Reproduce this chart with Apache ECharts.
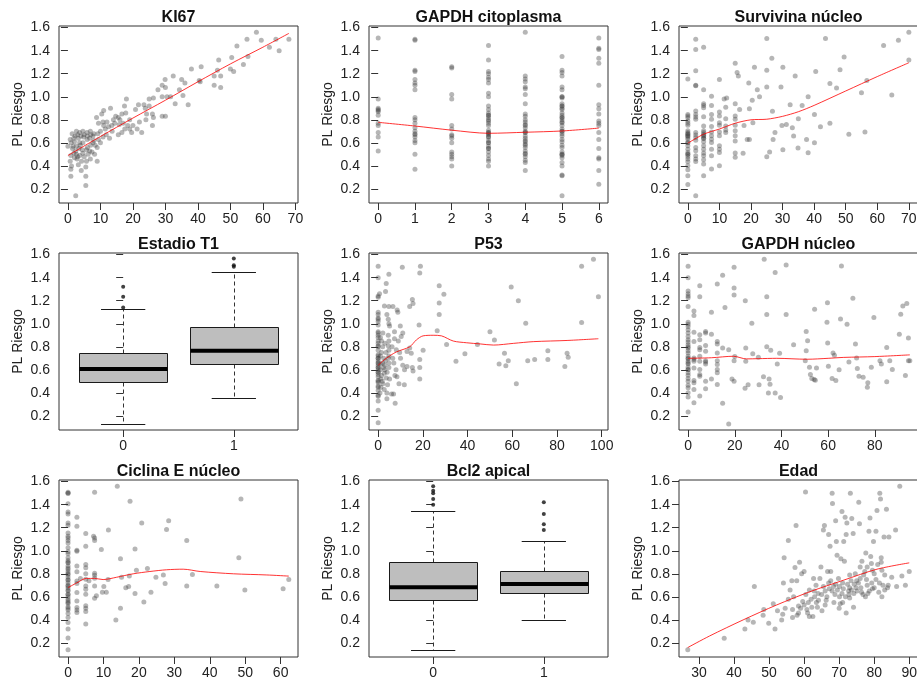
<!DOCTYPE html>
<html><head><meta charset="utf-8">
<script src="https://cdn.jsdelivr.net/npm/echarts@6/dist/echarts.min.js"></script>
<style>html,body{margin:0;padding:0;background:#fff}#c{width:917px;height:681px}</style>
</head><body><div id="c"></div>
<script>
// ---- values ----
const yTicks = [0.2, 0.4, 0.6, 0.8, 1.0, 1.2, 1.4, 1.6];
const ki67Ticks = [0, 10, 20, 30, 40, 50, 60, 70];
const gapdhCitoTicks = [0, 1, 2, 3, 4, 5, 6];
const survTicks = [0, 10, 20, 30, 40, 50, 60, 70];
const binTicks = [0, 1];
const p53Ticks = [0, 20, 40, 60, 80, 100];
const gapdhNucTicks = [0, 20, 40, 60, 80];
const ciclinaTicks = [0, 10, 20, 30, 40, 50, 60];
const edadTicks = [30, 40, 50, 60, 70, 80, 90];

const ki67Pts = [[58,1.56],[55.1,1.50],[59.5,1.49],[64,1.50],[68,1.50],[52,1.44],[62,1.43],[65,1.40],[55.4,1.35],[54,1.28],[50.4,1.34],[46.4,1.32],[50,1.24],[51,1.22],[46,1.23],[45,1.18],[47,1.18],[47,1.08],[45,1.10],[41,1.26],[38,1.24],[40.4,1.14],[40.7,1.13],[35,1.15],[36,1.12],[32.4,1.18],[29.9,1.15],[29,1.10],[27.7,1.06],[30,1.08],[30.5,1.00],[31.6,1.00],[34.3,1.06],[35.4,1.01],[37,0.93],[33,0.94],[29,1.00],[26.3,0.99],[25,0.98],[25,0.92],[23.4,0.93],[23.8,0.90],[21.7,0.93],[20.8,0.89],[18,0.98],[17.4,0.92],[16.6,0.85],[17.8,0.86],[15.5,0.82],[14.7,0.83],[13.1,0.90],[11,0.88],[10.4,0.85],[8.8,0.82],[9.4,0.77],[10.8,0.78],[12,0.78],[14.4,0.77],[15.8,0.76],[17,0.77],[18.4,0.75],[20,0.75],[21.3,0.72],[22.7,0.69],[19.6,0.69],[26.3,0.82],[26,0.75],[24.2,0.85],[29,0.83],[30,0.83],[26,0.85],[16.6,0.69],[15.5,0.67],[13.6,0.70],[11.8,0.67],[10.8,0.65],[9.4,0.63],[9.2,0.68],[7.7,0.66],[6.9,0.70],[5.9,0.69],[4.6,0.70],[3.6,0.69],[2.6,0.70],[1.3,0.68],[0.7,0.63],[0,0.57],[1,0.60],[2,0.61],[2.6,0.57],[1.6,0.57],[3.6,0.60],[4.6,0.60],[5.9,0.63],[6.7,0.64],[7.7,0.60],[9,0.56],[8.4,0.58],[6.7,0.53],[5.7,0.54],[4.6,0.51],[3.6,0.49],[2.6,0.50],[1.8,0.51],[0.9,0.49],[2.8,0.46],[4.2,0.44],[5.7,0.44],[6.9,0.46],[9,0.44],[0.7,0.44],[1.1,0.40],[0.9,0.37],[0.9,0.31],[4.1,0.36],[5.5,0.31],[5.5,0.23],[2.4,0.14],[5.5,0.39],[3.2,0.41],[2.2,0.66],[3,0.67],[4,0.66],[5,0.67],[6,0.66],[7,0.67],[8,0.68],[3.2,0.64],[4.8,0.65],[2.4,0.53],[3.4,0.55],[4.4,0.54],[1.4,0.55],[2,0.47],[3,0.48],[5,0.48],[6.2,0.50],[7.4,0.52],[8.2,0.50],[1.8,0.64],[10,0.70],[11.5,0.72],[12.5,0.74],[13.5,0.75],[14,0.80],[16,0.80],[19,0.80],[22,0.78],[24,0.80],[19,0.72],[17.5,0.72],[11,0.75],[12.8,0.64],[10,0.60],[8,0.62],[3.8,0.58],[6,0.56],[7,0.58]];
const ki67Fit = [[0,0.49],[10,0.655],[20,0.815],[30,0.97],[40,1.13],[50,1.285],[60,1.43],[68,1.55]];

const gapdhCitoLevels = [0, 1, 2, 3, 4, 5, 6];
const gapdhCitoValues = [
  [1.51,0.98,0.90,0.89,0.87,0.84,0.77,0.75,0.69,0.65,0.53,0.88],
  [1.50,1.49,1.23,1.22,1.15,1.12,1.10,1.06,0.82,0.80,0.77,0.73,0.70,0.68,0.67,0.65,0.62,0.60,0.50,0.37],
  [1.26,1.25,1.02,0.98,0.75,0.72,0.67,0.66,0.64,0.60,0.52,0.50,0.48,0.46,0.40],
  [1.445,1.32,1.22,1.20,1.17,1.15,1.12,1.03,1.00,0.92,0.89,0.86,0.84,0.82,0.79,0.77,0.75,0.71,0.69,0.68,0.67,0.65,0.62,0.60,0.57,0.55,0.52,0.49,0.46,0.44,0.40,0.69,0.65,0.60,0.55,0.84,0.80],
  [1.56,1.18,1.155,1.13,1.085,1.07,1.02,0.94,0.85,0.83,0.80,0.78,0.76,0.73,0.70,0.69,0.66,0.64,0.61,0.59,0.56,0.53,0.51,0.48,0.45,0.43,0.36,0.69,0.62,0.58,0.50,0.75],
  [1.35,1.23,1.21,1.18,1.085,1.06,1.00,0.99,0.94,0.92,0.90,0.89,0.86,0.84,0.82,0.80,0.775,0.75,0.72,0.70,0.68,0.66,0.63,0.61,0.58,0.56,0.52,0.50,0.47,0.43,0.40,0.32,0.315,0.14,1.00,0.92,0.82,0.78,0.70,0.50,0.49],
  [1.51,1.42,1.41,1.335,1.29,1.10,0.93,0.895,0.85,0.79,0.77,0.75,0.69,0.63,0.55,0.47,0.46,0.36,0.24]
];
const gapdhCitoFit = [[0,0.778],[1,0.746],[2,0.71],[3,0.683],[4,0.692],[5,0.703],[6,0.728]];

const survPts = [[0,1.155],[0,0.847],[0,0.833],[0,0.818],[0,0.79],[0,0.77],[0,0.753],[0,0.704],[0,0.689],[0,0.675],[0,0.661],[0,0.646],[0,0.632],[0,0.603],[0,0.574],[0,0.545],[0,0.517],[0,0.502],[0,0.482],[0,0.459],[0,0.436],[0,0.401],[0,0.367],[0,0.315],[0,0.238],[0,0.66],[0,0.6],[0,0.5],[0,0.68],
[2.5,1.5],[2.5,1.41],[2.5,1.225],[2.5,1.1],[2.5,1.095],[2.5,0.876],[2.5,0.847],[2.5,0.824],[2.5,0.804],[2.5,0.689],[2.5,0.669],[2.5,0.646],[2.5,0.623],[2.5,0.56],[2.5,0.531],[2.5,0.488],[2.5,0.459],[2.5,0.439],[2.5,0.14],
[5,1.43],[5,1.06],[5,0.939],[5,0.925],[5,0.905],[5,0.827],[5,0.746],[5,0.704],[5,0.689],[5,0.675],[5,0.661],[5,0.637],[5,0.609],[5,0.574],[5,0.545],[5,0.511],[5,0.488],[5,0.453],[5,0.416],[5,0.315],[5,0.66],[5,0.64],
[7.5,1.005],[7.5,0.925],[7.5,0.847],[7.5,0.804],[7.5,0.741],[7.5,0.695],[7.5,0.661],[7.5,0.632],[7.5,0.603],[7.5,0.545],[7.5,0.488],[7.5,0.373],
[10,1.15],[10,0.867],[10,0.833],[10,0.775],[10,0.752],[10,0.695],[10,0.661],[10,0.574],[10,0.545],[10,0.517],[10,0.401],
[11.5,0.98],[12.3,0.99],[12,0.91],[12,0.81],[12,0.746],[12,0.712],[12,0.689],
[15,1.29],[15,0.94],[15,0.833],[15,0.804],[15,0.752],[15,0.704],[15,0.661],[15,0.617],[15,0.511],[15,0.474],
[15.6,1.21],[16,1.18],[17.8,0.75],[17.5,0.51],[16.4,0.89],[19.3,1.12],[19.5,0.895],[19.5,0.63],[18.8,0.63],[20.4,0.97],[21.1,1.255],[20.6,0.775],[22,1.06],[22.7,1.0],
[25,1.505],[25,1.23],[25,1.085],[25,0.48],[25.9,0.52],[26.6,1.335],[26.8,0.875],[27,0.63],[27.6,0.69],[29.5,1.085],[29.8,0.75],[30.1,0.54],[30.1,1.255],[31.2,0.76],[32.4,0.93],[33.1,0.73],[33.5,0.66],[34,1.18],[35,0.81],[34.9,0.555],[36.2,0.925],[37.6,0.63],[38.1,1.0],[38.1,0.515],
[40.1,0.845],[40.1,0.6],[40.5,1.22],[42,0.74],[43.6,1.505],[45,1.115],[45,0.77],[47.1,1.075],[48.2,1.235],[49.5,1.345],[51,0.675],[55,1.035],[56.1,0.695],[56.7,1.14],[62,1.445],[64.6,1.015],[66.7,1.49],[70,1.56],[70,1.32]];
const survFit = [[0,0.597],[5,0.675],[10,0.72],[15,0.77],[20,0.80],[25,0.805],[30,0.83],[35,0.87],[40,0.925],[50,1.05],[60,1.175],[70,1.295]];

const estadioStats = [[0.134,0.493,0.608,0.749,1.126],[0.355,0.651,0.766,0.976,1.448]];
const estadioOut = [[0,1.321],[0,1.235],[0,1.14],[1,1.566],[1,1.508],[1,1.494]];

const p53Pts = [[0,1.5],[0,1.4],[0,1.24],[0,1.23],[0,1.1],[0,1.08],[0,1.05],[0,1.04],[0,1.02],[0,0.99],[0,0.93],[0,0.92],[0,0.88],[0,0.85],[0,0.83],[0,0.81],[0,0.77],[0,0.73],[0,0.72],[0,0.7],[0,0.68],[0,0.66],[0,0.64],[0,0.62],[0,0.6],[0,0.58],[0,0.56],[0,0.54],[0,0.51],[0,0.49],[0,0.46],[0,0.42],[0,0.38],[0,0.37],[0,0.33],[0,0.25],[0,0.14],[0,0.66],[0,0.62],[0,0.58],[0,0.7],[0,0.5],[0,0.45],[0,0.9],[0,0.8],
[0.6,1.26],[3.3,1.28],[3.6,1.35],[4.8,1.43],[2.8,1.155],[4.8,1.15],[3.9,1.08],[4.5,1.04],[4.8,1.0],[5.1,0.98],[4.5,0.9],[4.8,0.85],[4.5,0.81],[4.8,0.77],[4.8,0.72],[4.5,0.7],[4.8,0.66],[4.8,0.62],[5.1,0.52],[3,0.6],[2.7,0.57],[2.1,0.48],[2.7,0.43],[3.9,0.4],[3.9,0.35],[2.1,0.92],[1.5,0.85],[2,0.8],[1.5,0.75],[2.5,0.7],[1.2,0.65],[1.5,0.55],[1.8,0.5],[1.2,0.45],[3,0.83],[3.2,0.68],[2.4,0.62],[3.6,0.53],[4.2,0.47],[3.5,0.75],[1,0.72],[1,0.6],[1.2,0.52],[2,0.66],[3,0.64],[4,0.58],[1,0.88],[0.8,0.4],
[6.6,1.15],[7.3,0.93],[7.3,0.87],[8.1,0.775],[8.5,1.12],[8.8,1.1],[9.3,0.48],[8.4,0.54],[7.6,0.31],[6.9,0.39],[6,0.39],[9.9,0.98],[9.6,0.75],[10.3,0.89],[10.8,1.49],[11,0.64],[11.7,0.47],[11.8,0.6],[12.9,0.76],[12.9,0.63],[14.1,0.79],[14.1,1.15],[14.8,0.745],[15.3,1.21],[15.6,1.175],[15.3,0.62],[15.6,0.59],[18.3,0.99],[18.9,1.5],[18.6,1.44],[18.6,0.69],[18.6,0.62],[18.6,0.52],[20.1,0.77],[6.5,0.7],[7,0.66],[6.2,0.8],[8,0.6],[7.5,0.55],[9,0.85],[10,0.7],[11,0.92],
[26.4,0.94],[27.3,1.33],[27.3,1.18],[27.3,1.08],[29.4,1.255],[30.6,0.82],[34.8,0.675],[38.8,0.74],[44.4,0.82],[50,0.93],[52,0.86],[54.1,0.65],[56.5,0.745],[57.1,0.635],[58.2,0.68],[59.5,1.32],[61.8,0.48],[62.7,1.2],[66,1.005],[66.9,0.68],[70,0.69],[75.9,0.765],[75.9,0.69],[83.5,0.63],[84.5,0.745],[85,0.71],[91,1.5],[91,1.01],[96.3,1.56],[98.5,1.235]];
const p53Fit = [[0,0.64],[3.6,0.70],[8.1,0.755],[14.1,0.80],[17.1,0.86],[20.1,0.895],[24.6,0.90],[28.3,0.895],[33.6,0.85],[39.6,0.835],[45.6,0.825],[51.6,0.815],[60.6,0.83],[69.6,0.845],[84.5,0.855],[98.5,0.87]];

const gapdhNucPts = [[0,1.5],[0,1.4],[0,1.285],[0,1.26],[0,1.24],[0,1.226],[0,1.149],[0,1.014],[0,0.996],[0,0.976],[0,0.948],[0,0.919],[0,0.89],[0,0.861],[0,0.841],[0,0.818],[0,0.789],[0,0.766],[0,0.746],[0,0.718],[0,0.697],[0,0.674],[0,0.651],[0,0.623],[0,0.603],[0,0.574],[0,0.554],[0,0.525],[0,0.502],[0,0.467],[0,0.444],[0,0.401],[0,0.364],[0,0.234],[0,0.7],[0,0.66],[0,0.6],[0,0.8],
[2.5,1.111],[2.5,1.071],[2.5,0.927],[2.5,0.847],[2.5,0.703],[2.5,0.689],[2.5,0.674],[2.5,0.617],[2.5,0.508],[2.5,0.488],[2.5,0.43],[2.5,0.315],
[5,1.33],[5,1.235],[5,0.904],[5,0.861],[5,0.795],[5,0.775],[5,0.718],[5,0.674],[5,0.603],[5,0.559],[5,0.545],[5,0.373],
[7.5,0.933],[7.5,0.919],[7.5,0.812],[7.5,0.761],[7.5,0.68],[7.5,0.669],[7.5,0.651],[7.5,0.502],[7.5,0.436],
[10,1.1],[10,0.91],[10,0.52],
[12.5,1.344],[12.5,0.847],[12.5,0.824],[12.5,0.746],[12.5,0.68],[12.5,0.646],[12.5,0.603],[12.5,0.574],[12.5,0.473],
[14.8,0.79],[14.8,0.31],[14.8,1.42],[15.8,1.14],[17.4,0.13],[17.4,0.775],[18.8,0.52],[19.7,1.31],[19.7,1.25],[19.7,1.49],[20,0.715],[19.7,0.5],[19.7,0.68],
[24.5,1.2],[24.7,0.79],[24.7,0.675],[24.4,0.44],[25.7,0.47],[27.3,1.005],[27.7,0.74],[30.1,0.71],[30.4,0.47],[32.3,0.54],[32.6,1.56],[33.7,1.235],[33.7,1.08],[33.7,0.8],[34.7,0.52],[35.1,0.475],[34.4,0.4],[35.4,0.77],[37.3,1.445],[37.3,0.4],[38.2,0.65],[39.2,0.745],[39.6,0.36],[42,1.51],[42,1.08],[45.2,0.818],
[50.6,0.933],[51.2,0.853],[50.6,0.766],[50.2,0.68],[52,0.623],[52.4,0.559],[53,0.525],[54,0.516],[55,0.617],[54.5,0.51],[54.2,1.126],[59.5,1.014],[59.8,0.833],[60.1,0.631],[59.7,1.183],[61.7,0.525],[62.1,0.746],[62.7,0.726],[63.3,0.508],[64.7,0.6],[65.3,1.042],[65.7,1.502],[68.1,0.996],[68.9,0.669],[70.6,1.221],[71.7,0.824],[72.2,0.703],[72.5,0.611],[73.2,0.545],[75,0.536],[76.8,0.45],[77,0.488],[78.5,0.623],[79.6,1.054],[82.2,0.68],[82.8,0.651],[85.1,0.795],[85.1,0.496],[86.4,0.68],[87.5,0.603],[90.5,0.91],[91.1,1.083],[92,1.155],[93.1,0.551],[93.7,1.175],[94.4,0.876],[94.4,0.68],[95,0.68]];
const gapdhNucFit = [[0,0.70],[10,0.705],[19.4,0.718],[25,0.695],[30,0.697],[38,0.70],[51,0.692],[60,0.70],[66.7,0.708],[80,0.715],[95,0.73]];

const ciclinaPts = [[0,1.508],[0,1.499],[0,1.407],[0,1.336],[0,1.318],[0,1.241],[0,1.221],[0,1.154],[0,1.126],[0,1.111],[0,1.088],[0,1.068],[0,1.025],[0,0.991],[0,0.973],[0,0.939],[0,0.916],[0,0.896],[0,0.867],[0,0.838],[0,0.818],[0,0.795],[0,0.772],[0,0.743],[0,0.723],[0,0.695],[0,0.68],[0,0.651],[0,0.623],[0,0.6],[0,0.565],[0,0.542],[0,0.513],[0,0.485],[0,0.456],[0,0.421],[0,0.378],[0,0.321],[0,0.243],[0,0.14],[0,0.9],[0,0.85],[0,0.8],[0,0.7],[0,0.66],[0,0.62],[0,0.58],[0,0.55],[0,0.5],[0,0.75],[0,1.5],
[2.5,1.29],[2.5,1.212],[2.5,1.005],[2.5,0.867],[2.5,0.818],[2.5,0.738],[2.5,0.715],[2.5,0.637],[2.5,0.565],[2.5,0.508],[2.5,0.485],[2.5,0.465],[3.5,0.76],[2.5,0.995],
[5,1.149],[5,1.039],[5,0.881],[5,0.853],[5,0.801],[5,0.752],[5,0.695],[5,0.666],[5,0.623],[5,0.522],[5,0.502],[5,0.473],[5,0.364],[5.9,0.74],
[7.5,1.508],[7.2,1.126],[7.5,1.111],[7.5,1.088],[7.5,0.804],[7.5,0.787],[7.5,0.761],[7.5,0.695],[7.5,0.588],
[8,0.61],[9.4,1.01],[9.7,0.64],[10.1,0.69],[10.8,0.64],[11.3,0.75],[11.4,1.18],[13.5,0.4],[13.9,1.56],[14.8,0.93],[14.8,0.5],[15.1,0.77],[16.3,0.68],[17.1,0.69],[17.5,1.43],[17.3,0.78],[18.9,1.015],[18.9,0.63],[19.3,0.83],[20.8,1.24],[21.4,0.555],[22.4,0.845],[23.4,0.64],[24.8,0.77],[26.9,0.79],[27.4,0.715],[27.8,1.185],[28.4,1.26],[33.5,1.09],[33.5,0.695],[35.1,0.795],[42,0.695],[48.2,0.94],[48.8,1.45],[49.9,0.66],[60.7,0.67],[62.3,0.75]];
const ciclinaFit = [[0,0.68],[2.4,0.72],[5.2,0.76],[7.5,0.76],[9.9,0.75],[13.7,0.77],[18.4,0.80],[23.1,0.82],[27.8,0.835],[32.5,0.84],[37.3,0.82],[46.7,0.80],[56.1,0.79],[62.3,0.78]];

const bcl2Stats = [[0.14,0.569,0.684,0.899,1.345],[0.40,0.632,0.712,0.821,1.087]];
const bcl2Out = [[0,1.56],[0,1.52],[0,1.50],[0,1.45],[0,1.40],[1,1.42],[1,1.32],[1,1.23],[1,1.18]];

const edadPts = [[26.8,0.14],[37.2,0.24],[43.1,0.32],[44,0.40],[45.5,0.38],[45.8,0.69],[48.3,0.44],[48.5,0.49],[49.9,0.37],[51.2,0.54],[51.7,0.32],[52.4,0.48],[53.6,0.40],[53.9,0.45],[54.3,0.94],[54.1,0.72],[54.6,0.50],[55.5,1.09],[56,0.66],[56.5,0.74],[56.7,0.49],[56.7,0.42],[57.4,0.855],[57.7,1.22],[57.9,0.74],[58.4,0.52],[58.7,0.90],[58.4,0.46],[59.3,0.80],[59.6,0.56],[60,0.82],[60.4,1.51],[60.8,0.49],[61.2,0.55],[61.5,0.43],[62.2,0.51],[62.7,0.76],[62.9,0.65],[63.4,0.70],[63.8,0.51],[64.1,0.57],[64.8,0.86],[65.1,0.48],[65.5,1.18],[65.8,1.22],[65.5,0.69],[66,0.65],[66.3,0.57],[66.7,0.82],[67,1.14],[67.4,1.04],[67.6,0.74],[68,1.50],[68.1,1.41],[67.6,0.82],[68,0.65],[68.4,0.69],[69,1.26],[69.2,1.08],[69.4,0.96],[69.8,0.76],[70.1,0.69],[70.1,0.60],[70.3,0.54],[70.5,0.93],[70.8,1.34],[71.3,1.08],[71.5,0.91],[71.7,1.29],[72,1.14],[72.2,1.24],[72.4,0.71],[72.7,0.65],[73,0.59],[73.2,1.50],[73,0.79],[73.4,0.74],[73.6,1.28],[74,1.15],[74.1,0.51],[74.3,0.71],[74.6,0.80],[75.1,0.65],[75.6,1.42],[75.8,1.235],[76,0.76],[76.2,0.68],[76.5,0.91],[76.8,0.62],[77,0.79],[77.3,0.82],[77.6,0.98],[78,0.70],[78.2,0.63],[78.5,1.17],[78.8,1.285],[79,0.95],[79.2,0.89],[79.3,0.72],[79.5,0.83],[79.8,1.08],[80,0.68],[80.5,1.17],[80.8,1.35],[81.6,1.50],[81.8,1.45],[82,0.94],[82.2,0.83],[82.2,0.60],[82.5,0.70],[82.8,1.12],[83,0.79],[83.5,1.36],[83.8,0.68],[84.2,1.12],[86.1,1.18],[86.4,0.69],[87.3,1.56],[87.9,0.78],[88.9,0.70],[90,0.82],
[60.5,0.62],[61.5,0.66],[63,0.6],[64,0.63],[65,0.62],[66.5,0.6],[67.2,0.67],[68.8,0.62],[69.5,0.66],[70.8,0.63],[71.2,0.67],[71.8,0.6],[72.8,0.62],[73.5,0.66],[74.2,0.63],[74.8,0.68],[75.5,0.72],[76.4,0.64],[77.5,0.6],[77.8,0.75],[78.6,0.65],[79.5,0.67],[80.5,0.75],[81,0.88],[81.3,0.64],[82,0.9],[83,0.66],[84,0.7],[85,0.77],[62,0.58],[63.5,0.55],[66,0.53],[68.5,0.55],[70,0.5],[71,0.55],[72,0.46],[64.5,0.76],[67,0.72],[69,0.71],[71,0.72],[73,0.68],[75,0.74],[76,0.86],[78,0.86],[80,0.8],[81.5,0.72],[55.5,0.58],[57,0.6],[58,0.44],[59,0.5],[60,0.53],[61,0.46],[62.5,0.43]];
const edadFit = [[26.8,0.16],[33,0.26],[42.6,0.40],[52.2,0.53],[61.7,0.645],[71.3,0.745],[80.8,0.84],[90,0.895]];

// ---- layout & style ----
const FONT = '"Liberation Sans", Arial, Helvetica, sans-serif';
const Y_MIN = 0.078, Y_MAX = 1.614;
const colLeft = [59, 369, 679];
const rowTop = [26, 253, 480];
const GW = 239, GH = 177;
const POINT = 'rgba(60,60,60,0.47)';
const FIT = 'rgba(255,0,0,0.8)';
const TICK_LEN = 7;

const gapdhCitoPts = [];
gapdhCitoLevels.forEach((lv, i) => gapdhCitoValues[i].forEach(v => gapdhCitoPts.push([lv, v])));

const panels = [
  {title: 'KI67', pts: ki67Pts, fit: ki67Fit, xr: [-2.75, 70.8], ticks: ki67Ticks},
  {title: 'GAPDH citoplasma', pts: gapdhCitoPts, fit: gapdhCitoFit, xr: [-0.25, 6.25], ticks: gapdhCitoTicks},
  {title: 'Survivina núcleo', pts: survPts, fit: survFit, xr: [-2.8, 72.9], ticks: survTicks},
  {title: 'Estadio T1', stats: estadioStats, out: estadioOut, xr: [-0.58, 1.58], ticks: binTicks},
  {title: 'P53', pts: p53Pts, fit: p53Fit, xr: [-4.1, 102.8], ticks: p53Ticks},
  {title: 'GAPDH núcleo', pts: gapdhNucPts, fit: gapdhNucFit, xr: [-3.9, 98.5], ticks: gapdhNucTicks},
  {title: 'Ciclina E núcleo', pts: ciclinaPts, fit: ciclinaFit, xr: [-2.55, 64.9], ticks: ciclinaTicks},
  {title: 'Bcl2 apical', stats: bcl2Stats, out: bcl2Out, xr: [-0.58, 1.58], ticks: binTicks},
  {title: 'Edad', pts: edadPts, fit: edadFit, xr: [24.3, 92.5], ticks: edadTicks}
];

// box, whiskers, staples and median of one group
function renderBox(params, api) {
  const x = api.value(0);
  const lo = api.value(1), q1 = api.value(2), md = api.value(3), q3 = api.value(4), hi = api.value(5);
  const c = (xx, yy) => api.coord([xx, yy]);
  const cx = Math.round(c(x, md)[0]) + 0.5;
  const bl = Math.round(c(x - 0.4, md)[0]) + 0.5, br = Math.round(c(x + 0.4, md)[0]) + 0.5;
  const kl = c(x - 0.2, md)[0], kr = c(x + 0.2, md)[0];
  const yLo = Math.round(c(x, lo)[1]) + 0.5, yQ1 = Math.round(c(x, q1)[1]) + 0.5;
  const yMd = c(x, md)[1], yQ3 = Math.round(c(x, q3)[1]) + 0.5, yHi = Math.round(c(x, hi)[1]) + 0.5;
  const solid = {stroke: '#1a1a1a', lineWidth: 1};
  const dashed = {stroke: '#333', lineWidth: 1, lineDash: [4, 3]};
  return {type: 'group', children: [
    {type: 'line', shape: {x1: cx, y1: yQ3, x2: cx, y2: yHi}, style: dashed},
    {type: 'line', shape: {x1: cx, y1: yQ1, x2: cx, y2: yLo}, style: dashed},
    {type: 'line', shape: {x1: kl, y1: yHi, x2: kr, y2: yHi}, style: solid},
    {type: 'line', shape: {x1: kl, y1: yLo, x2: kr, y2: yLo}, style: solid},
    {type: 'rect', shape: {x: bl, y: yQ3, width: br - bl, height: yQ1 - yQ3}, style: {fill: '#bebebe', stroke: '#1a1a1a', lineWidth: 1}},
    {type: 'line', shape: {x1: bl, y1: yMd, x2: br, y2: yMd}, style: {stroke: '#000', lineWidth: 4}}
  ]};
}

const grid = [], xAxis = [], yAxis = [], series = [], title = [];
panels.forEach((p, i) => {
  const r = Math.floor(i / 3), col = i % 3;
  const left = colLeft[col], top = rowTop[r];
  grid.push({left, top, width: GW, height: GH, show: true, borderColor: '#333', borderWidth: 1,
    backgroundColor: 'transparent', containLabel: false, outerBoundsMode: 'none'});
  title.push({text: p.title, left: left + GW / 2, top: top - 16, textAlign: 'center', padding: 0,
    textStyle: {fontSize: 16, fontWeight: 'bold', color: '#111', fontFamily: FONT}});
  xAxis.push({gridIndex: i, type: 'value', min: p.xr[0], max: p.xr[1],
    axisLine: {show: false}, splitLine: {show: false},
    axisTick: {show: true, length: TICK_LEN, inside: false, customValues: p.ticks, lineStyle: {color: '#333', width: 1}},
    axisLabel: {show: true, customValues: p.ticks, margin: 9, fontSize: 14, color: '#222', fontFamily: FONT,
      hideOverlap: false, formatter: v => String(v)}});
  yAxis.push({gridIndex: i, type: 'value', min: Y_MIN, max: Y_MAX,
    name: 'PL Riesgo', nameLocation: 'middle', nameGap: 34,
    nameTextStyle: {fontSize: 14, color: '#222', fontFamily: FONT},
    axisLine: {show: false}, splitLine: {show: false},
    axisTick: {show: true, length: TICK_LEN, inside: false, customValues: yTicks, lineStyle: {color: '#333', width: 1}},
    axisLabel: {show: true, customValues: yTicks, margin: 9, fontSize: 14, color: '#222', fontFamily: FONT,
      hideOverlap: false, formatter: v => Number(v).toFixed(1)}});
  if (p.stats) {
    series.push({type: 'custom', xAxisIndex: i, yAxisIndex: i, renderItem: renderBox,
      encode: {x: 0, y: [1, 2, 3, 4, 5]},
      data: p.stats.map((s, k) => [k].concat(s)), silent: true});
    series.push({type: 'scatter', xAxisIndex: i, yAxisIndex: i, data: p.out, symbol: 'circle', symbolSize: 4,
      itemStyle: {color: '#111'}, silent: true});
  } else {
    series.push({type: 'scatter', xAxisIndex: i, yAxisIndex: i, data: p.pts, symbol: 'circle', symbolSize: 5,
      itemStyle: {color: POINT}, silent: true, z: 2});
    series.push({type: 'line', xAxisIndex: i, yAxisIndex: i, data: p.fit, showSymbol: false, smooth: 0.3,
      lineStyle: {color: FIT, width: 1}, silent: true, z: 3});
  }
});

const chart = echarts.init(document.getElementById('c'), null, {renderer: 'canvas'});
chart.setOption({animation: false, backgroundColor: '#fff', title, grid, xAxis, yAxis, series, tooltip: {show: false}});
</script></body></html>
